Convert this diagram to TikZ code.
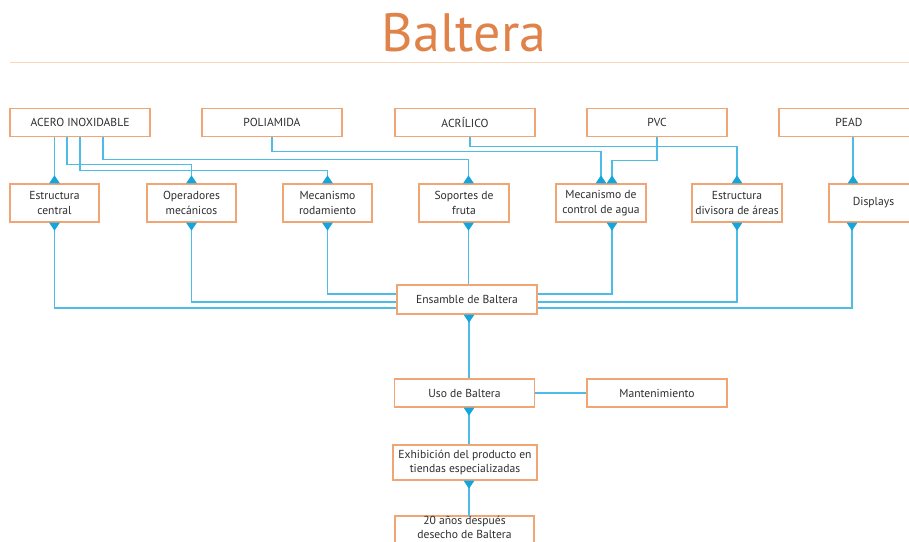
\documentclass[tikz,border=0pt]{standalone}
\usepackage{fontspec}
\setmainfont{PT Sans}
\usetikzlibrary{arrows.meta}
\definecolor{titleorange}{HTML}{E0834A}
\definecolor{boxorange}{HTML}{F0A574}
\definecolor{rulepeach}{HTML}{F9D7B8}
\definecolor{linkblue}{HTML}{4DBDE8}
\definecolor{tipblue}{HTML}{14A5DD}
\definecolor{ink}{HTML}{2E2E2E}
\tikzset{
  boxtext/.style={text=ink, font=\fontsize{11.6}{14.5}\selectfont, align=center, inner sep=0pt},
  box/.style={boxtext, draw=boxorange, line width=1.3pt, fill=white},
  matbox/.style={box, minimum width=140pt, minimum height=28pt},
  partbox/.style={box, minimum width=89pt, minimum height=38pt},
  frame/.style={draw=boxorange, line width=1.3pt},
  link/.style={draw=linkblue, line width=1.3pt},
  tri/.style={link, arrows={Triangle[reversed, width=10.5pt, length=8pt, color=tipblue]-}}
}
\begin{document}
\begin{tikzpicture}[x=1pt, y=-1pt]
\useasboundingbox (0,0) rectangle (909,541);

% heading and rule
\node[text=titleorange, font=\fontsize{54}{60}\selectfont] (title) at (464,33) {Baltera};
\draw[rulepeach, line width=1pt] (10,62) -- (909,62);

% materials
\node[matbox] (acero) at (80,122.5) {ACERO INOXIDABLE};
\node[matbox] (poli) at (272,122.5) {POLIAMIDA};
\node[matbox] (acril) at (465,122.5) {ACRÍLICO};
\node[matbox] (pvc) at (657,122.5) {PVC};
\node[matbox] (pead) at (849,122.5) {PEAD};

% parts
\node[partbox] (estr) at (54.5,203) {Estructura\\central};
\node[partbox] (oper) at (191.5,203) {Operadores\\mecánicos};
\node[partbox] (meca) at (327.5,203) {Mecanismo\\rodamiento};
\node[partbox, minimum width=90pt] (sop) at (464,203) {Soportes de\\fruta};
\node[partbox, minimum width=90pt] (agua) at (601,203) {Mecanismo de\\control de agua};
\node[partbox, minimum width=90pt] (divi) at (737,203) {Estructura\\divisora de áreas};
\node[partbox] (disp) at (873.5,203) {Displays};

% assembly and life cycle
\node[matbox, minimum height=29pt] (ens) at (467,299.5) {Ensamble de Baltera};
\node[matbox] (uso) at (464.5,393) {Uso de Baltera};
\node[matbox] (mant) at (657,393) {Mantenimiento};
\node[matbox, minimum width=144pt, minimum height=35pt] (exhi) at (465,462.5) {Exhibición del producto en\\tiendas especializadas};

% last box runs past the lower edge: its frame is drawn open below
\coordinate (anostop) at (464.5,516);
\draw[frame] (395,548) -- (395,516) -- (534,516) -- (534,548);
\node[boxtext, font=\fontsize{11.6}{13.6}\selectfont, minimum width=139pt, text height=9pt] (anos) at (464.5,534) {20 años después\\desecho de Baltera};

% materials -> parts
\draw[tri] (estr.north) -- (estr.north |- acero.south);
\draw[tri] (oper.north) -- ++(0,-19) -| ([xshift=-13pt]acero.south);
\draw[tri] (meca.north) -- ++(0,-13) -| (acero.south);
\draw[tri] ([xshift=4.5pt]sop.north) -- ++(0,-24) -| ([xshift=23pt]acero.south);
\draw[tri] (agua.north) -- ++(0,-32) -| (poli.south);
\draw[tri] ([xshift=11pt]agua.north) -- ++(0,-23) -| (pvc.south);
\draw[tri] (divi.north) -- ++(0,-37) -| ([xshift=5pt]acril.south);
\draw[tri] ([xshift=-20.5pt]disp.north) -- ([xshift=-20.5pt]disp.north |- pead.south);

% parts -> assembly
\draw[tri] (estr.south) |- ([yshift=-8.5pt]ens.west);
\draw[tri] (oper.south) |- ([yshift=-2.5pt]ens.west);
\draw[tri] (meca.south) |- ([yshift=5.5pt]ens.west);
\draw[tri] ([xshift=4.5pt]sop.south) -- ([xshift=4.5pt]sop.south |- ens.north);
\draw[tri] ([xshift=11pt]agua.south) |- ([yshift=5.5pt]ens.east);
\draw[tri] (divi.south) |- ([yshift=-2.5pt]ens.east);
\draw[tri] ([xshift=-21.5pt]disp.south) |- ([yshift=-8.5pt]ens.east);

% assembly -> use -> display -> disposal
\draw[tri] ([xshift=2pt]ens.south) -- ([xshift=2pt]ens.south |- uso.north);
\draw[link] (uso.east) -- (mant.west);
\draw[tri] ([xshift=4.5pt]uso.south) -- ([xshift=4.5pt]uso.south |- exhi.north);
\draw[tri] ([xshift=4pt]exhi.south) -- ([xshift=4pt]exhi.south |- anostop);
\end{tikzpicture}
\end{document}
